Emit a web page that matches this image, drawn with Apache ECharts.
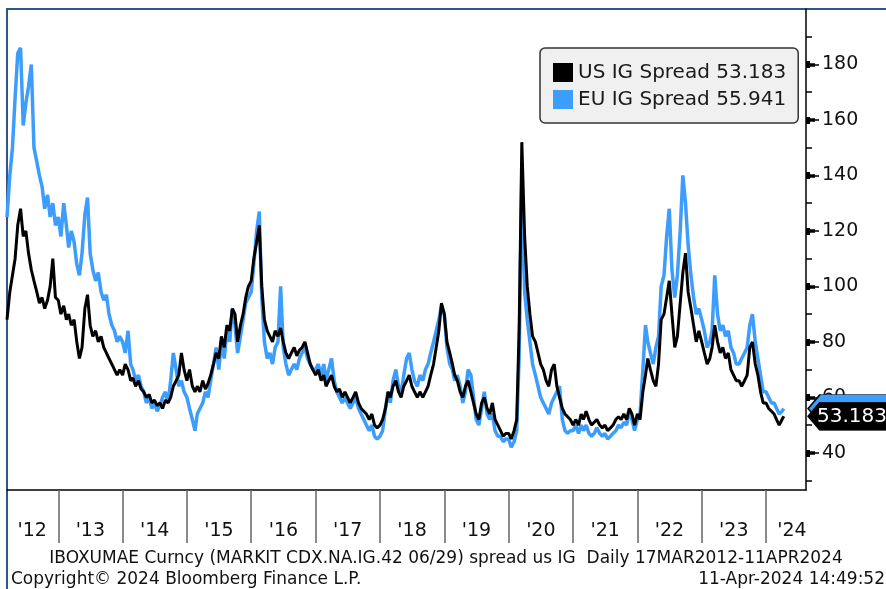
<!DOCTYPE html>
<html>
<head>
<meta charset="utf-8">
<script src="https://cdn.jsdelivr.net/npm/echarts@6/dist/echarts.min.js"></script>
<style>
  html, body { margin: 0; padding: 0; background: #fff; }
  #chart { width: 886px; height: 589px; }
</style>
</head>
<body>
<div id="chart"></div>
<script>
// semi-monthly readings (1st and 16th of each month), 2012 starts mid-March
var us2012 = [88, 98, 104, 110, 122, 128, 118, 120, 112, 106, 102, 98, 94, 96, 92, 95, 100, 110, 96];
var us2013 = [95, 90, 93, 88, 90, 86, 88, 80, 74, 78, 92, 97, 86, 82, 84, 80, 82, 78, 76, 74, 72, 70, 68, 70];
var us2014 = [68, 72, 70, 66, 67, 64, 66, 63, 62, 60, 61, 58, 59, 57, 58, 56, 59, 58, 60, 64, 66, 68, 76, 70];
var us2015 = [66, 70, 64, 62, 64, 62, 66, 63, 65, 68, 72, 76, 74, 82, 78, 86, 84, 92, 90, 80, 86, 90, 96, 100];
var us2016 = [102, 110, 116, 122, 100, 88, 84, 82, 80, 84, 82, 85, 80, 76, 74, 76, 78, 75, 77, 78, 80, 76, 72, 70];
var us2017 = [68, 70, 66, 68, 64, 66, 68, 64, 62, 63, 60, 62, 60, 58, 60, 62, 58, 56, 55, 54, 52, 54, 50, 49];
var us2018 = [50, 52, 56, 62, 60, 64, 66, 62, 60, 64, 66, 68, 64, 62, 60, 62, 60, 62, 64, 68, 72, 78, 84, 94];
var us2019 = [90, 80, 76, 72, 68, 66, 62, 60, 64, 66, 62, 58, 54, 52, 58, 60, 56, 54, 58, 52, 50, 48, 46, 47];
var us2020 = [47, 45, 48, 52, 85, 152, 118, 100, 90, 82, 80, 76, 72, 70, 66, 64, 70, 72, 64, 60, 56, 54, 53, 52];
var us2021 = [50, 52, 50, 54, 52, 55, 52, 50, 51, 52, 50, 49, 50, 48, 49, 50, 52, 53, 52, 54, 52, 56, 54, 50];
var us2022 = [54, 52, 62, 68, 74, 70, 66, 64, 72, 88, 90, 96, 102, 90, 78, 82, 94, 105, 112, 98, 92, 86, 80, 84];
var us2023 = [80, 76, 72, 74, 78, 86, 80, 76, 78, 74, 76, 70, 68, 66, 66, 64, 66, 68, 78, 80, 72, 68, 62, 58];
var us2024 = [58, 56, 55, 54, 52, 50, 52];

var eu2012 = [125, 140, 150, 168, 184, 186, 158, 166, 172, 180, 150, 145, 140, 136, 128, 133, 125, 130, 122];
var eu2013 = [125, 118, 130, 122, 114, 120, 116, 108, 104, 112, 126, 132, 112, 106, 102, 105, 98, 95, 97, 90, 86, 84, 80, 82];
var eu2014 = [80, 76, 84, 72, 70, 66, 68, 64, 62, 58, 60, 56, 58, 55, 57, 60, 62, 58, 66, 76, 70, 64, 66, 62];
var eu2015 = [60, 56, 52, 48, 54, 56, 58, 62, 60, 66, 72, 78, 70, 80, 74, 84, 80, 92, 86, 76, 82, 88, 94, 96];
var eu2016 = [98, 108, 120, 127, 96, 80, 74, 76, 72, 78, 80, 100, 78, 72, 68, 70, 72, 70, 74, 76, 78, 74, 72, 70];
var eu2017 = [70, 72, 68, 72, 66, 70, 74, 66, 62, 60, 58, 60, 58, 56, 58, 60, 56, 54, 52, 50, 48, 50, 46, 45];
var eu2018 = [46, 48, 56, 62, 58, 66, 70, 64, 62, 68, 74, 76, 70, 66, 64, 68, 66, 70, 72, 76, 80, 84, 88, 93];
var eu2019 = [90, 78, 72, 70, 66, 68, 64, 58, 62, 70, 68, 60, 52, 50, 56, 62, 54, 52, 54, 48, 46, 46, 44, 45];
var eu2020 = [45, 42, 44, 48, 75, 140, 98, 88, 80, 72, 68, 64, 60, 58, 56, 54, 58, 60, 62, 64, 52, 48, 47, 48];
var eu2021 = [48, 50, 47, 50, 48, 50, 47, 46, 47, 49, 47, 46, 47, 45, 46, 47, 48, 50, 49, 51, 50, 55, 52, 48];
var eu2022 = [52, 54, 70, 86, 80, 76, 72, 78, 82, 100, 104, 118, 128, 106, 96, 104, 120, 140, 130, 115, 104, 96, 90, 92];
var eu2023 = [88, 84, 78, 80, 84, 104, 90, 84, 86, 82, 84, 78, 76, 72, 72, 74, 76, 78, 86, 90, 80, 74, 68, 62];
var eu2024 = [62, 60, 58, 58, 56, 54, 55];

var lastDate = '2024-04-11';
var usLast = 53.183;
var euLast = 55.941;

var tickDates = ['2013-01-01', '2014-01-01', '2015-01-01', '2016-01-01', '2017-01-01', '2018-01-01',
  '2019-01-01', '2020-01-01', '2021-01-01', '2022-01-01', '2023-01-01', '2024-01-01'];
var labelDates = ['2012-08-06', '2013-07-02', '2014-07-02', '2015-07-02', '2016-07-02', '2017-07-02',
  '2018-07-02', '2019-07-02', '2020-07-02', '2021-07-02', '2022-07-02', '2023-07-02', '2024-05-27'];
var yMajor = [40, 60, 80, 100, 120, 140, 160, 180];
var yMinor = [30, 50, 70, 90, 110, 130, 150, 170, 190];

var font = "'DejaVu Sans', Verdana, sans-serif";

function pad(n) { return n < 10 ? '0' + n : '' + n; }
function ts(s) { return echarts.number.parseDate(s).getTime(); }

function toPairs(years, firstYear, firstSlot, endDate, endValue) {
  var out = [];
  years.forEach(function (vals, i) {
    var start = i === 0 ? firstSlot : 0;
    vals.forEach(function (v, j) {
      var slot = start + j;
      var d = (firstYear + i) + '-' + pad(Math.floor(slot / 2) + 1) + '-' + (slot % 2 ? '16' : '01');
      out.push([ts(d), v]);
    });
  });
  out.push([ts(endDate), endValue]);
  return out;
}

var usData = toPairs([us2012, us2013, us2014, us2015, us2016, us2017, us2018, us2019, us2020, us2021, us2022, us2023, us2024], 2012, 5, lastDate, usLast);
var euData = toPairs([eu2012, eu2013, eu2014, eu2015, eu2016, eu2017, eu2018, eu2019, eu2020, eu2021, eu2022, eu2023, eu2024], 2012, 5, lastDate, euLast);

var xMin = ts('2012-03-16');
var xMax = ts('2024-08-15');
var yMin = 26.6;
var yMax = 200;

// extra right-hand axes only to build the arrow-like ticks
function tickAxis(len, width, values) {
  return {
    type: 'value', position: 'right', min: yMin, max: yMax,
    axisLine: { show: false },
    axisTick: { show: true, length: len, customValues: values, lineStyle: { color: '#000', width: width } },
    axisLabel: { show: false },
    splitLine: { show: false }
  };
}

function valueTag(value, color, showText) {
  return {
    symbol: 'path://M0,14 L12,0 L100,0 L100,28 L12,28 Z',
    symbolSize: [100, 28],
    symbolKeepAspect: false,
    symbolOffset: [52, 0],
    itemStyle: { color: color, borderColor: '#000', borderWidth: 1 },
    label: {
      show: showText, position: 'inside', offset: [-6, 1],
      color: '#fff', fontSize: 20, fontFamily: font,
      formatter: function () { return value.toFixed(3); }
    },
    data: [{ coord: [xMax, value] }]
  };
}

var chart = echarts.init(document.getElementById('chart'));

var option = {
  animation: false,
  backgroundColor: '#fff',
  grid: { left: 7, right: 80, top: 9, bottom: 99, outerBoundsMode: 'none' },
  legend: {
    data: ['US IG Spread', 'EU IG Spread'],
    orient: 'vertical',
    left: 540, top: 48,
    icon: 'rect',
    itemWidth: 20, itemHeight: 19, itemGap: 6,
    padding: [14, 12, 13, 13],
    backgroundColor: '#f0f0f0',
    borderColor: '#333', borderWidth: 1.5, borderRadius: 5,
    textStyle: { fontSize: 20, fontFamily: font, color: '#1a1a1a', lineHeight: 21 },
    formatter: function (name) {
      return name + ' ' + (name.indexOf('US') === 0 ? usLast : euLast).toFixed(3);
    }
  },
  xAxis: {
    type: 'value', min: xMin, max: xMax,
    axisLine: { lineStyle: { color: '#000', width: 1.5 } },
    axisTick: { show: true, length: 53, customValues: tickDates.map(ts), lineStyle: { color: '#666', width: 1.5 } },
    axisLabel: {
      customValues: labelDates.map(ts),
      margin: 32, fontSize: 19, fontFamily: font, color: '#111',
      formatter: function (v) { return "'" + String(new Date(v).getFullYear()).slice(2); }
    },
    splitLine: { show: false }
  },
  yAxis: [
    {
      type: 'value', position: 'right', min: yMin, max: yMax,
      axisLine: { show: true, lineStyle: { color: '#000', width: 1.5 } },
      axisTick: { show: true, length: 13, customValues: yMajor, lineStyle: { color: '#000', width: 1.5 } },
      axisLabel: { customValues: yMajor, margin: 16, fontSize: 19, fontFamily: font, color: '#111' },
      splitLine: { show: false }
    },
    tickAxis(9, 3.5, yMajor),
    tickAxis(4, 7, yMajor),
    tickAxis(6, 1.5, yMinor)
  ],
  graphic: [
    {
      type: 'polyline', silent: true,
      shape: { points: [[886, 9], [7, 9], [7, 589]] },
      style: { stroke: '#2f5688', lineWidth: 2, fill: null }
    },
    {
      type: 'text', x: 446, y: 559,
      style: { text: 'IBOXUMAE Curncy (MARKIT CDX.NA.IG.42 06/29) spread us IG  Daily 17MAR2012-11APR2024',
        font: '17px ' + font, fill: '#111', align: 'center', verticalAlign: 'middle' }
    },
    {
      type: 'text', x: 11, y: 580,
      style: { text: 'Copyright\u00a9 2024 Bloomberg Finance L.P.', font: '17px ' + font, fill: '#111', align: 'left', verticalAlign: 'middle' }
    },
    {
      type: 'text', x: 885, y: 580,
      style: { text: '11-Apr-2024 14:49:52', font: '17px ' + font, fill: '#111', align: 'right', verticalAlign: 'middle' }
    }
  ],
  series: [
    {
      name: 'EU IG Spread', type: 'line', data: euData,
      showSymbol: false, symbol: 'none',
      lineStyle: { color: '#3d9dfd', width: 3.5 },
      itemStyle: { color: '#3d9dfd' },
      markPoint: valueTag(euLast, '#3d9dfd', false)
    },
    {
      name: 'US IG Spread', type: 'line', data: usData,
      showSymbol: false, symbol: 'none',
      lineStyle: { color: '#000', width: 3 },
      itemStyle: { color: '#000' },
      markPoint: valueTag(usLast, '#000', true)
    }
  ]
};

chart.setOption(option);
</script>
</body>
</html>
